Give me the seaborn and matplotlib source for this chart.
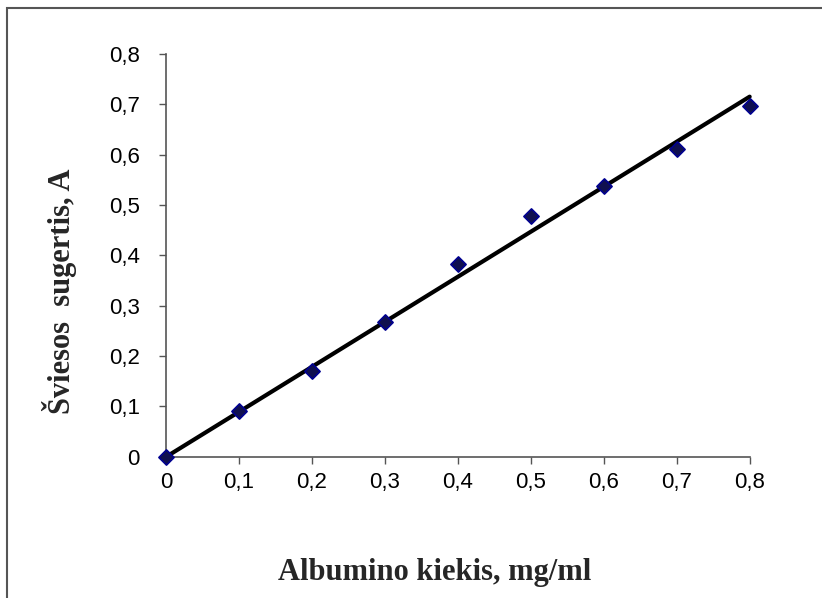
import numpy as np
import pandas as pd
import matplotlib
matplotlib.use("Agg")
import matplotlib.pyplot as plt
import seaborn as sns
from matplotlib.patches import Rectangle

x_vals = [0.0, 0.1, 0.2, 0.3, 0.4, 0.5, 0.6, 0.7, 0.8]
y_vals = [0.0, 0.091, 0.171, 0.268, 0.383, 0.478, 0.538, 0.611, 0.696]
tick_vals = [0.0, 0.1, 0.2, 0.3, 0.4, 0.5, 0.6, 0.7, 0.8]
tick_labels = ["0", "0,1", "0,2", "0,3", "0,4", "0,5", "0,6", "0,7", "0,8"]
x_label = "Albumino kiekis, mg/ml"
y_label = "Šviesos  sugertis, A"

sns.set_theme(style="white")
plt.rcParams['font.family'] = ['Liberation Sans', 'DejaVu Sans']

df = pd.DataFrame({"x": x_vals, "y": y_vals})

fig = plt.figure(figsize=(8.22, 5.98), dpi=100)
ax = fig.add_axes([0.202, 0.236, 0.710, 0.674])

# trend line through origin
xa = np.array(x_vals); ya = np.array(y_vals)
slope = (xa * ya).sum() / (xa * xa).sum()
xl = np.array([min(x_vals), max(x_vals)])
ax.plot(xl, slope * xl, color="black", lw=3.0, zorder=2, clip_on=False)

sns.scatterplot(data=df, x="x", y="y", ax=ax, marker="D", s=60,
                color="#101050", edgecolor="#000090", linewidth=1.2,
                zorder=3, clip_on=False, legend=False)

ax.set_xlim(0, 0.8)
ax.set_ylim(0, 0.8)
ax.set_xticks(tick_vals)
ax.set_xticklabels(tick_labels)
ax.set_yticks(tick_vals)
ax.set_yticklabels(tick_labels)
ax.tick_params(axis="both", direction="out", length=5, width=1, color="#555555",
               labelsize=16, labelcolor="black", bottom=True, left=True)
ax.tick_params(axis="y", pad=14)
ax.tick_params(axis="x", pad=6)
for s in ["top", "right"]:
    ax.spines[s].set_visible(False)
for s in ["left", "bottom"]:
    ax.spines[s].set_color("#555555")
    ax.spines[s].set_linewidth(1.2)

ax.set_xlabel(x_label, fontsize=22, fontweight="bold",
              family=["Liberation Serif", "DejaVu Serif"])
ax.set_ylabel(y_label, fontsize=22, fontweight="bold",
              family=["Liberation Serif", "DejaVu Serif"])
ax.xaxis.set_label_coords(0.46, -0.25)
ax.yaxis.set_label_coords(-0.152, 0.41)

# outer chart frame (top and left edges visible)
fig.patches.append(Rectangle((7 / 822, -0.05), 1.2, (598 - 8) / 598 + 0.05,
                             transform=fig.transFigure, fill=False,
                             edgecolor="#555555", linewidth=1.5))

fig.savefig("out.png", dpi=100)
